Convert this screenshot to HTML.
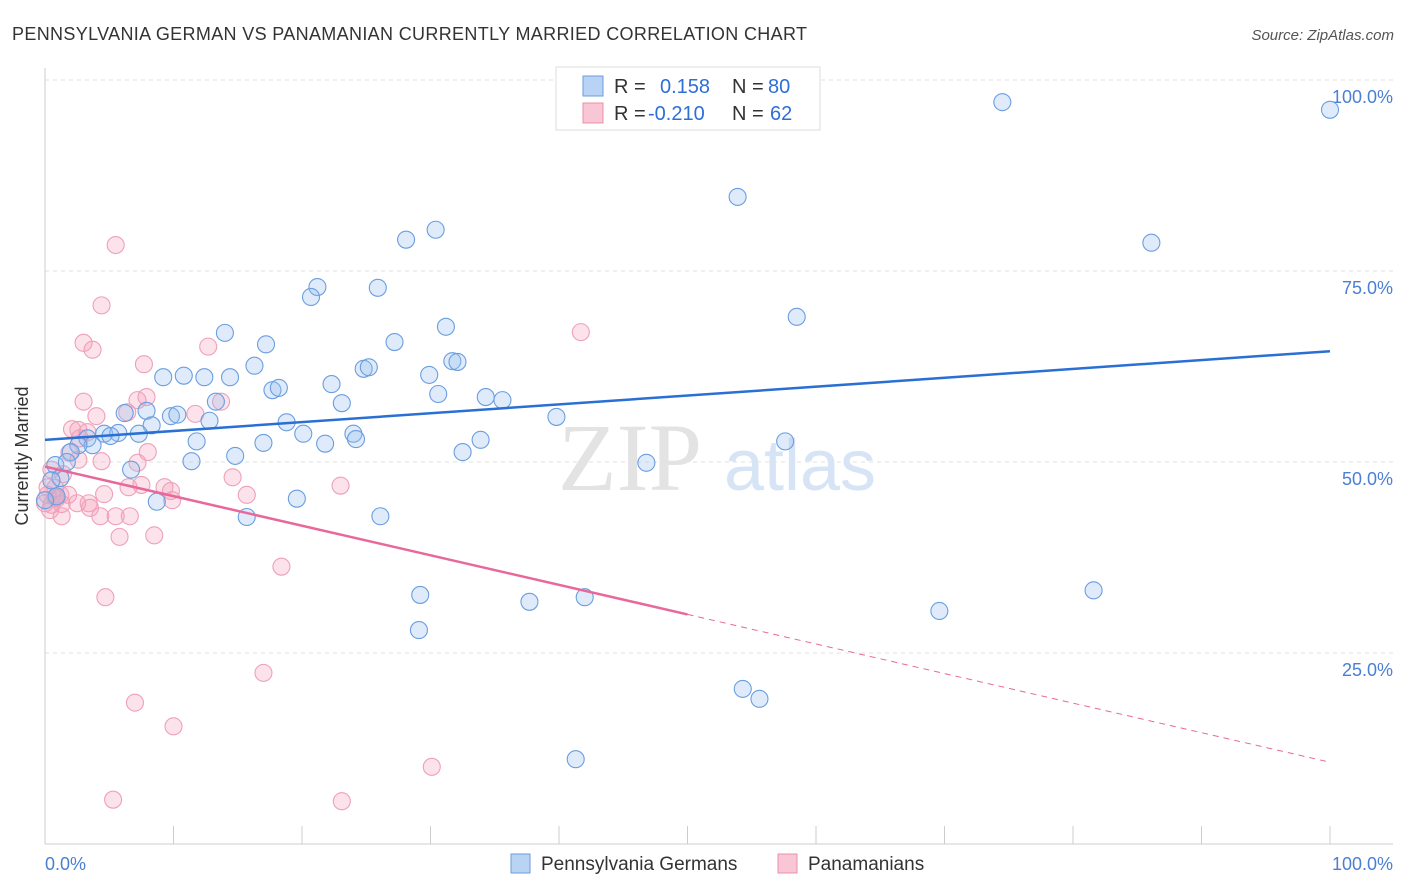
<!DOCTYPE html>
<html><head><meta charset="utf-8"><style>
body{margin:0;background:#fff;font-family:"Liberation Sans",sans-serif}
</style></head><body>
<svg width="1406" height="892" style="display:block">
<text x="12" y="40" font-size="18" fill="#333" textLength="795">PENNSYLVANIA GERMAN VS PANAMANIAN CURRENTLY MARRIED CORRELATION CHART</text>
<text x="1394" y="40" font-size="15" fill="#555" font-style="italic" text-anchor="end">Source: ZipAtlas.com</text>
<g id="grid"></g>
<text x="630" y="490" font-size="96" fill="#e3e3e3" font-family="Liberation Serif" text-anchor="middle">ZIP</text>
<text x="800" y="490" font-size="72" fill="#d6e4f5" text-anchor="middle">atlas</text>
<g id="pts"></g>
<g id="lines"></g>
<text x="28" y="456" font-size="18" fill="#333" text-anchor="middle" transform="rotate(-90 28 456)">Currently Married</text>
<text x="45" y="870" font-size="18" fill="#4a7fd4">0.0%</text>
<text x="1393" y="870" font-size="18" fill="#4a7fd4" text-anchor="end">100.0%</text>
<g>
<rect x="556" y="67" width="264" height="63" fill="#fff" stroke="#ddd"/>
<rect x="583" y="76" width="20" height="20" fill="#b9d3f5" stroke="#6a9ee0"/>
<rect x="583" y="103" width="20" height="20" fill="#f9c6d5" stroke="#ec8fab"/>
<text x="614" y="93" font-size="20" fill="#333">R =</text><text x="660" y="93" font-size="20" fill="#2e6fd6">0.158</text>
<text x="732" y="93" font-size="20" fill="#333">N =</text><text x="768" y="93" font-size="20" fill="#2e6fd6">80</text>
<text x="614" y="120" font-size="20" fill="#333">R =</text><text x="648" y="120" font-size="20" fill="#2e6fd6">-0.210</text>
<text x="732" y="120" font-size="20" fill="#333">N =</text><text x="770" y="120" font-size="20" fill="#2e6fd6">62</text>
</g>
<g>
<rect x="511" y="854" width="19" height="19" fill="#b9d3f5" stroke="#6a9ee0"/>
<text x="541" y="870" font-size="19" fill="#333">Pennsylvania Germans</text>
<rect x="778" y="854" width="19" height="19" fill="#f9c6d5" stroke="#ec8fab"/>
<text x="808" y="870" font-size="19" fill="#333">Panamanians</text>
</g>
</svg>
<script>
const yTicks=[25,50,75,100];
const yTickLabels=["25.0%","50.0%","75.0%","100.0%"];
const bluePx=[[1002,102],[1330,110],[738,197],[1152,243],[406,240],[436,230],[317,287],[311,297],[378,288],[797,317],[225,333],[266,344],[395,342],[446,327],[254,366],[364,369],[369,367],[452,361],[458,362],[163,377],[184,376],[204,377],[230,377],[332,384],[273,390],[279,388],[429,375],[438,394],[486,397],[502,400],[216,402],[342,403],[125,413],[146,411],[171,416],[177,415],[210,421],[152,425],[286,422],[556,417],[104,434],[118,433],[139,434],[303,434],[353,434],[88,438],[93,445],[78,445],[196,441],[264,443],[325,444],[356,439],[480,440],[785,441],[55,465],[71,452],[67,462],[131,470],[192,461],[235,456],[463,452],[647,463],[61,478],[56,496],[157,502],[297,499],[247,517],[381,516],[420,595],[530,602],[585,597],[419,630],[940,611],[1094,590],[743,689],[759,699],[576,759],[45,500],[52,480],[110,436]];
const pinkPx=[[116,245],[102,305],[83,343],[93,350],[581,332],[208,347],[144,364],[84,402],[147,397],[138,400],[221,402],[96,416],[127,412],[195,414],[72,429],[78,430],[87,432],[80,438],[70,453],[78,460],[102,461],[138,463],[148,452],[233,477],[52,470],[63,474],[55,488],[165,487],[171,491],[341,486],[128,487],[141,485],[104,494],[247,495],[48,487],[55,497],[45,503],[62,504],[89,503],[90,508],[172,500],[100,516],[116,516],[130,516],[62,516],[50,510],[120,537],[154,535],[281,567],[105,597],[264,673],[135,703],[174,726],[432,767],[113,800],[342,801],[56,499],[68,495],[77,503],[48,495],[52,505],[60,495]];
const blueX=bluePx.map(p=>+((p[0]-45)/12.85).toFixed(1));
const blueY=bluePx.map(p=>+((844-p[1])/7.64).toFixed(1));
const pinkX=pinkPx.map(p=>+((p[0]-45)/12.85).toFixed(1));
const pinkY=pinkPx.map(p=>+((844-p[1])/7.64).toFixed(1));
const blueTrend=[52.9,64.5];
const pinkTrend=[49.4,10.7];
const pinkSolidEnd=50;
const X=v=>45+v*12.85, Y=v=>844-v*7.64;
const NS='http://www.w3.org/2000/svg';
function mk(t,a,p){const e=document.createElementNS(NS,t);for(const k in a)e.setAttribute(k,a[k]);p.appendChild(e);return e;}
const g=document.getElementById('grid');
yTicks.forEach((t,i)=>{
 const l=mk('line',{x1:45,x2:1393,y1:Y(t),y2:Y(t),stroke:'#e2e2e2','stroke-dasharray':'4,4'},g);
 
 
 const tx=mk('text',{x:1393,y:Y(t)+23,'font-size':18,fill:'#4a7fd4','text-anchor':'end'},g);
 tx.textContent=yTickLabels[i];
 
 
});
mk('line',{x1:45,x2:45,y1:68,y2:844,stroke:'#ccc'},g);
mk('line',{x1:45,x2:1393,y1:844,y2:844,stroke:'#ccc'},g);
for(let i=0;i<=10;i++){const t=mk('line',{x1:X(i*10),x2:X(i*10),y1:826,y2:844,stroke:'#ccc'},g);
 
 }
const pg=document.getElementById('pts');
function dots(xs,ys,fill,stroke,name){xs.forEach((x,i)=>{const c=mk('circle',{cx:X(x),cy:Y(ys[i]),r:8.5,fill:fill,stroke:stroke,'stroke-width':1.1},pg);
 
 });}
dots(pinkX,pinkY,'rgba(245,160,185,0.3)','#efa0b8','panamanian-point');
dots(blueX,blueY,'rgba(150,190,240,0.3)','#6a9ee0','pennsylvania-german-point');
const lg=document.getElementById('lines');
const bl=mk('line',{x1:X(0),y1:Y(blueTrend[0]),x2:X(100),y2:Y(blueTrend[1]),stroke:'#2a6fd4','stroke-width':2.5},lg);


const pm=pinkTrend[0]+(pinkTrend[1]-pinkTrend[0])*pinkSolidEnd/100;
const pl=mk('line',{x1:X(0),y1:Y(pinkTrend[0]),x2:X(pinkSolidEnd),y2:Y(pm),stroke:'#e8689a','stroke-width':2.5},lg);


const pd=mk('line',{x1:X(pinkSolidEnd),y1:Y(pm),x2:X(100),y2:Y(pinkTrend[1]),stroke:'#e8689a','stroke-width':1,'stroke-dasharray':'6,5'},lg);


</script>
</body></html>
